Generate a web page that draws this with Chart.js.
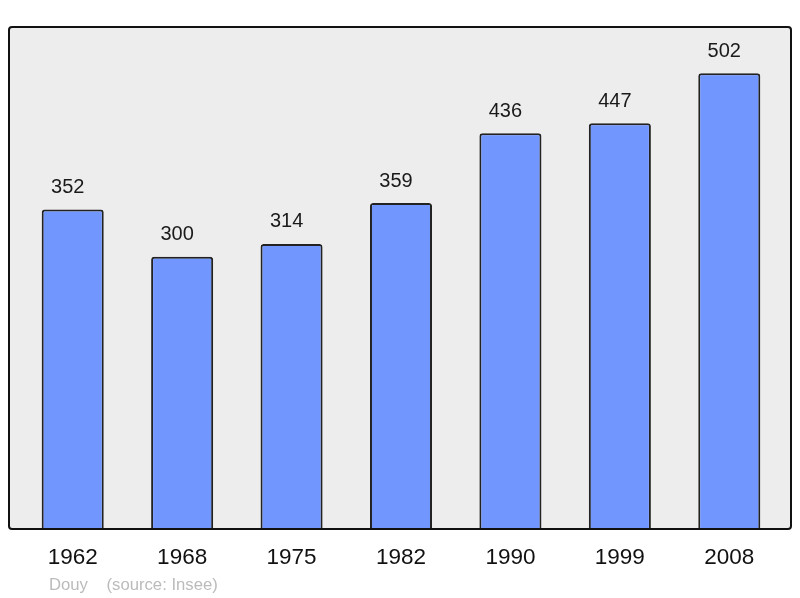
<!DOCTYPE html>
<html>
<head>
<meta charset="utf-8">
<script src="https://cdn.jsdelivr.net/npm/chart.js@4.4.0/dist/chart.umd.min.js"></script>
<style>
  html, body { margin: 0; padding: 0; background: #fff; }
  #wrap { position: relative; width: 800px; height: 598px; }
  #note {
    position: absolute; left: 49px; top: 575px;
    font-family: "Liberation Sans", Arial, sans-serif; font-size: 16.7px; color: #bbbbbb;
    white-space: pre;
  }
</style>
</head>
<body>
<div id="wrap">
  <canvas id="pop-chart" width="800" height="598"></canvas>
  <div id="note">Douy    (source: Insee)</div>
</div>
<script>
// Data
const years = ["1962", "1968", "1975", "1982", "1990", "1999", "2008"];
const population = [352, 300, 314, 359, 436, 447, 502];

// grey frame behind the bars
const frameBox = {
  id: 'frameBox',
  beforeDatasetsDraw(chart) {
    const { ctx, chartArea } = chart;
    const x0 = chartArea.left - 9, x1 = chartArea.right + 7;
    const y0 = chartArea.top, y1 = chartArea.bottom;
    ctx.save();
    ctx.beginPath();
    ctx.roundRect(x0, y0, x1 - x0, y1 - y0, 3);
    ctx.fillStyle = '#ededed';
    ctx.fill();
    ctx.restore();
  },
  afterDatasetsDraw(chart) {
    const { ctx, chartArea } = chart;
    const x0 = chartArea.left - 9, x1 = chartArea.right + 7;
    const y0 = chartArea.top, y1 = chartArea.bottom;
    ctx.save();
    ctx.beginPath();
    ctx.roundRect(x0, y0, x1 - x0, y1 - y0, 3);
    ctx.lineWidth = 2;
    ctx.strokeStyle = '#111';
    ctx.stroke();
    ctx.restore();
  }
};

// value above each bar (sits a little left of centre, like the original)
const valueLabels = {
  id: 'valueLabels',
  afterDatasetsDraw(chart) {
    const { ctx } = chart;
    const meta = chart.getDatasetMeta(0);
    ctx.save();
    ctx.font = '20px "Liberation Sans", Arial, sans-serif';
    ctx.fillStyle = '#1a1a1a';
    ctx.textAlign = 'center';
    ctx.textBaseline = 'middle';
    meta.data.forEach((bar, i) => {
      ctx.fillText(String(population[i]), bar.x - 5, bar.y - 22);
    });
    ctx.restore();
  }
};

new Chart(document.getElementById('pop-chart').getContext('2d'), {
  type: 'bar',
  data: {
    labels: years,
    datasets: [{
      data: population,
      backgroundColor: '#7197ff',
      borderColor: '#222',
      borderWidth: 2,
      borderRadius: 3,
      borderSkipped: 'bottom',
      barPercentage: 0.567,
      categoryPercentage: 1
    }]
  },
  options: {
    responsive: false,
    animation: false,
    layout: { padding: { left: 18, right: 16, top: 27, bottom: 12 } },
    plugins: {
      legend: { display: false },
      tooltip: { enabled: false }
    },
    scales: {
      y: { display: false, min: 0, max: 553 },
      x: {
        grid: { display: false, drawTicks: false },
        border: { display: false },
        ticks: {
          padding: 15,
          color: '#111',
          font: { family: '"Liberation Sans", Arial, sans-serif', size: 22.5 }
        }
      }
    }
  },
  plugins: [frameBox, valueLabels]
});
</script>
</body>
</html>
